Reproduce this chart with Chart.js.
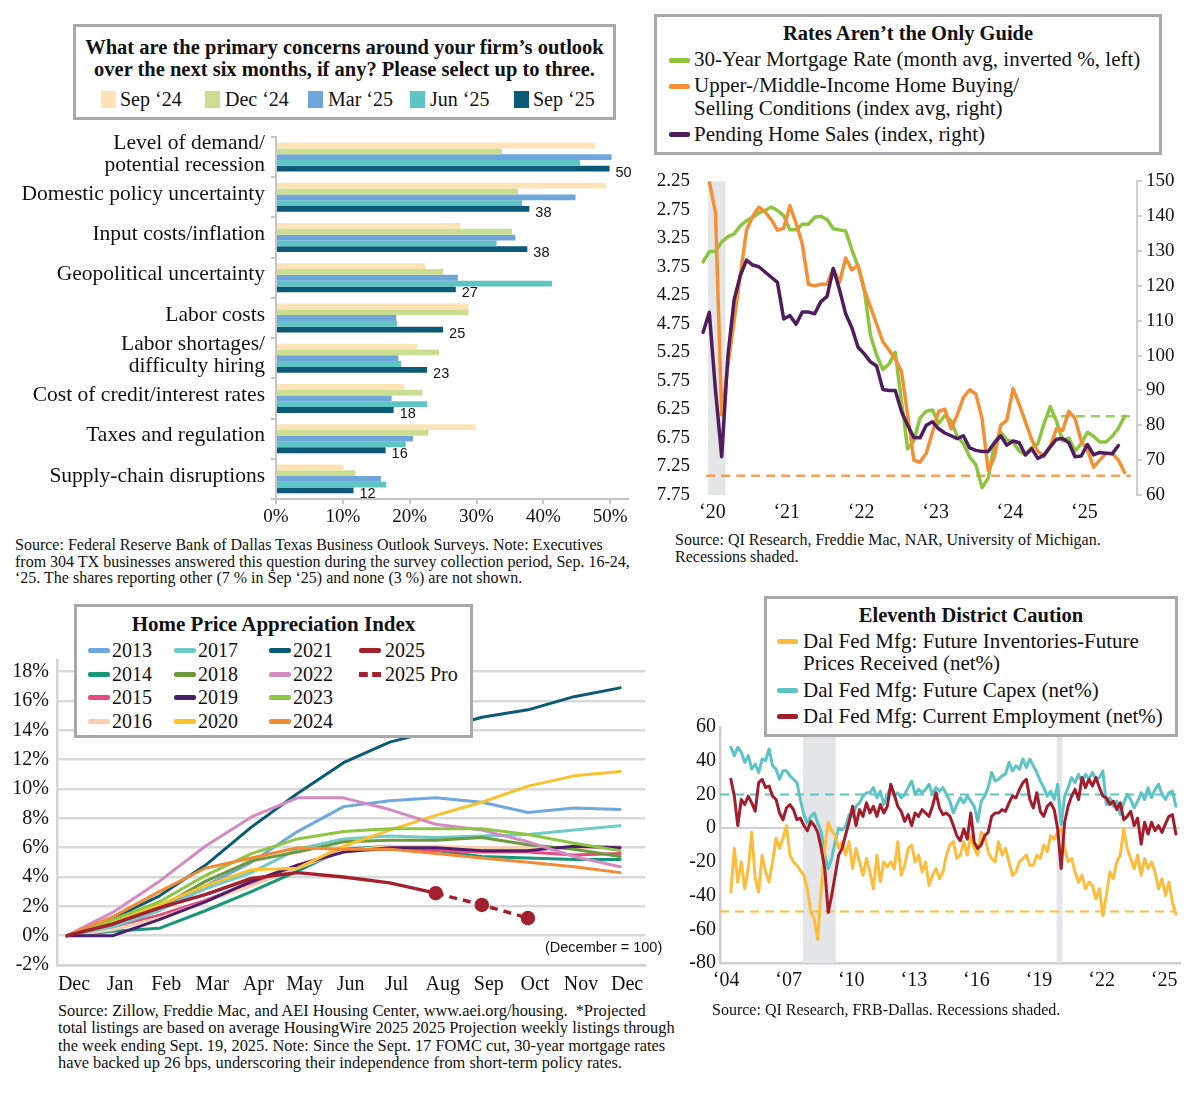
<!DOCTYPE html>
<html lang="en">
<head>
<meta charset="UTF-8" />
<title>Survey concerns, housing and Dallas Fed panels</title>
<style>
  body { margin: 0; background: #fff; font-family: "Liberation Serif", "Times New Roman", serif; color: #111; }
  #page { position: relative; width: 1200px; height: 1100px; overflow: hidden; }
  canvas { position: absolute; }
  .box { position: absolute; background: #fff; border: 3px solid #a8a8a8; box-sizing: border-box; }
  .t { position: absolute; white-space: nowrap; font-size: 20px; line-height: 22px; }
  .b { font-weight: bold; font-size: 20.5px; text-align: center; }
  .sw { position: absolute; width: 15px; height: 17px; }
  .ln { position: absolute; width: 21px; height: 5px; border-radius: 2px; }
  .src { position: absolute; white-space: nowrap; font-size: 16px; line-height: 17px; }
</style>
</head>
<body>
<div id="page">
  <canvas id="concerns" width="640" height="410" style="left:0;top:120px"></canvas>
  <canvas id="rates" width="550" height="370" style="left:650px;top:160px"></canvas>
  <canvas id="hpa" width="690" height="360" style="left:0;top:640px"></canvas>
  <canvas id="caution" width="520" height="300" style="left:680px;top:700px"></canvas>

  <!-- top left legend -->
  <div class="box" style="left:73px;top:24px;width:543px;height:96px"></div>
  <div class="t b" style="left:73px;top:36px;width:543px">What are the primary concerns around your firm’s outlook<br>over the next six months, if any? Please select up to three.</div>
  <div class="sw" style="left:101px;top:91px;background:#fde3b5"></div><div class="t" style="left:120px;top:88px">Sep ‘24</div>
  <div class="sw" style="left:205px;top:91px;background:#c9de90"></div><div class="t" style="left:225px;top:88px">Dec ‘24</div>
  <div class="sw" style="left:308px;top:91px;background:#6ea6dc"></div><div class="t" style="left:328px;top:88px">Mar ‘25</div>
  <div class="sw" style="left:410px;top:91px;background:#5ec4c4"></div><div class="t" style="left:430px;top:88px">Jun ‘25</div>
  <div class="sw" style="left:514px;top:91px;background:#0d5a78"></div><div class="t" style="left:533px;top:88px">Sep ‘25</div>
  <div class="src" style="left:15px;top:537px;line-height:16.5px">Source: Federal Reserve Bank of Dallas Texas Business Outlook Surveys. Note: Executives<br>from 304 TX businesses answered this question during the survey collection period, Sep. 16-24,<br>‘25. The shares reporting other (7 % in Sep ‘25) and none (3 %) are not shown.</div>

  <!-- top right legend -->
  <div class="box" style="left:654px;top:14px;width:508px;height:141px"></div>
  <div class="t b" style="left:654px;top:22px;width:508px">Rates Aren’t the Only Guide</div>
  <div class="ln" style="left:669px;top:58px;background:#8cc63f"></div><div class="t" style="left:694px;top:48px;font-size:21px">30-Year Mortgage Rate (month avg, inverted %, left)</div>
  <div class="ln" style="left:669px;top:84px;background:#f58f35"></div><div class="t" style="left:694px;top:74px;line-height:23px;font-size:21px">Upper-/Middle-Income Home Buying/<br>Selling Conditions (index avg, right)</div>
  <div class="ln" style="left:669px;top:132px;background:#4f1d5e"></div><div class="t" style="left:694px;top:123px;font-size:21px">Pending Home Sales (index, right)</div>
  <div class="src" style="left:675px;top:531px">Source: QI Research, Freddie Mac, NAR, University of Michigan.<br>Recessions shaded.</div>

  <!-- bottom left legend -->
  <div class="box" style="left:74px;top:604px;width:399px;height:134px"></div>
  <div class="t b" style="left:74px;top:613px;width:399px;font-size:21px">Home Price Appreciation Index</div>
  <div class="ln" style="left:88px;top:648px;width:22px;background:#6fa8dc"></div><div class="t" style="left:112px;top:639px">2013</div>
  <div class="ln" style="left:88px;top:672px;width:22px;background:#17977a"></div><div class="t" style="left:112px;top:663px">2014</div>
  <div class="ln" style="left:88px;top:695px;width:22px;background:#e8497e"></div><div class="t" style="left:112px;top:686px">2015</div>
  <div class="ln" style="left:88px;top:719px;width:22px;background:#f9cfb0"></div><div class="t" style="left:112px;top:710px">2016</div>
  <div class="ln" style="left:174px;top:648px;width:22px;background:#6ecbc8"></div><div class="t" style="left:198px;top:639px">2017</div>
  <div class="ln" style="left:174px;top:672px;width:22px;background:#6b9a3c"></div><div class="t" style="left:198px;top:663px">2018</div>
  <div class="ln" style="left:174px;top:695px;width:22px;background:#4b1d6b"></div><div class="t" style="left:198px;top:686px">2019</div>
  <div class="ln" style="left:174px;top:719px;width:22px;background:#fbc02d"></div><div class="t" style="left:198px;top:710px">2020</div>
  <div class="ln" style="left:269px;top:648px;width:22px;background:#0b5a73"></div><div class="t" style="left:293px;top:639px">2021</div>
  <div class="ln" style="left:269px;top:672px;width:22px;background:#d38bc2"></div><div class="t" style="left:293px;top:663px">2022</div>
  <div class="ln" style="left:269px;top:695px;width:22px;background:#8dc63f"></div><div class="t" style="left:293px;top:686px">2023</div>
  <div class="ln" style="left:269px;top:719px;width:22px;background:#f38b36"></div><div class="t" style="left:293px;top:710px">2024</div>
  <div class="ln" style="left:359px;top:648px;width:22px;background:#a3212f"></div><div class="t" style="left:385px;top:639px">2025</div>
  <div class="ln" style="left:359px;top:672px;width:22px;height:0;border-radius:0;border-top:5px dashed #a3212f"></div><div class="t" style="left:385px;top:663px">2025 Pro</div>
  <div class="t" style="left:545px;top:936px;font-family:'Liberation Sans',Arial,sans-serif;font-size:14.5px">(December = 100)</div>
  <div class="src" style="left:58px;top:1002px;line-height:17.4px;font-size:16.4px">Source: Zillow, Freddie Mac, and AEI Housing Center, www.aei.org/housing.&nbsp; *Projected<br>total listings are based on average HousingWire 2025 2025 Projection weekly listings through<br>the week ending Sept. 19, 2025. Note: Since the Sept. 17 FOMC cut, 30-year mortgage rates<br>have backed up 26 bps, underscoring their independence from short-term policy rates.</div>

  <!-- bottom right legend -->
  <div class="box" style="left:764px;top:596px;width:414px;height:141px"></div>
  <div class="t b" style="left:764px;top:604px;width:414px">Eleventh District Caution</div>
  <div class="ln" style="left:777px;top:639px;background:#fbbd3b"></div><div class="t" style="left:803px;top:630px;font-size:21px">Dal Fed Mfg: Future Inventories-Future<br>Prices Received (net%)</div>
  <div class="ln" style="left:777px;top:688px;background:#5cc4c4"></div><div class="t" style="left:803px;top:679px;font-size:21px">Dal Fed Mfg: Future Capex (net%)</div>
  <div class="ln" style="left:777px;top:714px;background:#a31c2c"></div><div class="t" style="left:803px;top:705px;font-size:21px">Dal Fed Mfg: Current Employment (net%)</div>
  <div class="src" style="left:712px;top:1001px">Source: QI Research, FRB-Dallas. Recessions shaded.</div>
</div>

<script src="https://cdn.jsdelivr.net/npm/chart.js@4.4.1/dist/chart.umd.min.js"></script>
<script>
  // ---- top left: survey concerns (% of respondents) ----
  const concernLabels = [
    ['Level of demand/', 'potential recession'],
    'Domestic policy uncertainty',
    'Input costs/inflation',
    'Geopolitical uncertainty',
    'Labor costs',
    ['Labor shortages/', 'difficulty hiring'],
    'Cost of credit/interest rates',
    'Taxes and regulation',
    'Supply-chain disruptions'
  ];
  const surveyNames = ['Sep ‘24', 'Dec ‘24', 'Mar ‘25', 'Jun ‘25', 'Sep ‘25'];
  const sep24 = [47.8, 49.4, 27.6, 22.4, 28.8, 21.1, 19.2, 29.9, 10.1];
  const dec24 = [33.8, 36.2, 35.3, 25.0, 28.8, 24.4, 21.9, 22.8, 11.9];
  const mar25 = [50.2, 44.8, 35.8, 27.2, 18.0, 18.3, 17.3, 20.5, 15.7];
  const jun25 = [45.5, 36.8, 33.0, 41.3, 18.1, 18.7, 22.6, 19.4, 16.5];
  const sep25 = [49.9, 37.9, 37.6, 26.9, 25.0, 22.6, 17.6, 16.4, 11.6];
  const concernTicks = [0, 10, 20, 30, 40, 50];

  // ---- top right: rates vs housing, monthly from Jan 2020 ----
  const mortgageRate = [
    3.66, 3.48, 3.48, 3.31, 3.22, 3.17, 3.03, 2.94, 2.88, 2.80, 2.76, 2.70,
    2.76, 2.85, 3.10, 3.10, 3.00, 3.00, 2.88, 2.86, 2.92, 3.08, 3.10, 3.12,
    3.45, 3.74, 4.15, 4.95, 5.30, 5.55, 5.45, 5.25, 6.10, 6.94, 6.80, 6.40,
    6.28, 6.26, 6.50, 6.35, 6.45, 6.72, 6.85, 7.08, 7.22, 7.62, 7.45, 6.85,
    6.65, 6.78, 6.82, 6.98, 7.05, 6.92, 6.85, 6.50, 6.20, 6.45, 6.80, 6.75,
    6.98, 6.85, 6.65, 6.72, 6.82, 6.82, 6.72, 6.58, 6.37
  ];
  const buyingStart = 1; // series begins Feb 2020
  const buyingConditions = [
    150, 141, 83, 97, 110, 123, 136, 140, 142.6, 141.3, 139,
    136, 136.5, 143, 138, 132, 120.5, 120, 120.5, 120.5, 125, 121, 128,
    124.6, 126, 119, 114, 109, 104, 101.6, 99, 95.5, 83, 70, 69.4,
    72, 78, 84, 84.6, 79, 83, 88, 90.2, 89, 82, 67, 71,
    80, 81.5, 90.5, 86, 81, 76, 72.5, 71, 74, 79, 78.5, 84,
    82, 75.5, 73, 68, 70, 72, 72, 70, 66.5
  ];
  const pendingSales = [
    106.7, 112.4, 90, 71, 100, 116, 123, 127.4, 126, 125.5, 124, 122.5,
    121, 110.5, 111.5, 109, 112.5, 112.5, 112, 115.5, 117, 125, 119, 112,
    108, 102.4, 100.5, 98.2, 97, 90.3, 90, 90, 84, 80, 76.5, 76.4,
    80, 81, 79, 77.8, 77, 76.2, 77, 73.5, 72.8, 72.5, 72.5, 75,
    77, 74.3, 75.5, 75, 71.5, 73.3, 70.5, 71.5, 73.8, 76, 76.2, 75,
    71, 71.2, 74.5, 71.5, 72.2, 72, 71.8, 74.2
  ];
  const mortgageRef = 6.37;      // latest rate, dashed
  const mortgageRefFrom = 55.3;
  const buyingRef = 65.5;        // latest conditions level, dashed
  const ratesRecession = [[0.8, 3.6]];
  const rateTicks = [2.25, 2.75, 3.25, 3.75, 4.25, 4.75, 5.25, 5.75, 6.25, 6.75, 7.25, 7.75];
  const indexTicks = [60, 70, 80, 90, 100, 110, 120, 130, 140, 150];
  const rateYearPos = [1.5, 13.5, 25.5, 37.5, 49.5, 61.5];
  const rateYearLabels = ['‘20', '‘21', '‘22', '‘23', '‘24', '‘25'];

  // ---- bottom left: home price appreciation, Dec = 0 ----
  const hpaMonths = ['Dec', 'Jan', 'Feb', 'Mar', 'Apr', 'May', 'Jun', 'Jul', 'Aug', 'Sep', 'Oct', 'Nov', 'Dec'];
  const hpa2013 = [0, 0.7, 1.9, 3.4, 5.0, 7.1, 8.8, 9.2, 9.4, 9.1, 8.4, 8.7, 8.6];
  const hpa2014 = [0, 0.3, 0.5, 1.7, 3.0, 4.4, 5.9, 6.1, 5.8, 5.4, 5.3, 5.2, 5.2];
  const hpa2015 = [0, 0.6, 1.4, 2.4, 3.6, 4.8, 5.8, 5.9, 5.8, 5.7, 5.7, 5.5, 5.6];
  const hpa2016 = [0, 0.4, 1.2, 2.3, 3.4, 4.6, 5.8, 6.1, 6.1, 6.0, 6.0, 6.0, 6.1];
  const hpa2017 = [0, 0.6, 1.7, 3.2, 4.3, 5.9, 6.6, 6.8, 6.7, 6.8, 6.9, 7.2, 7.5];
  const hpa2018 = [0, 0.8, 1.9, 3.7, 5.1, 5.7, 6.4, 6.5, 6.5, 6.7, 6.2, 5.9, 5.4];
  const hpa2019 = [0, 0.0, 1.1, 2.3, 3.7, 4.8, 5.7, 6.0, 6.0, 5.8, 5.8, 6.1, 6.0];
  const hpa2020 = [0, 0.9, 2.1, 3.4, 4.5, 4.6, 6.1, 7.2, 8.2, 9.1, 10.2, 10.9, 11.2];
  const hpa2021 = [0, 1.2, 2.7, 4.8, 7.4, 9.7, 11.8, 13.2, 14.0, 14.9, 15.4, 16.3, 16.9];
  const hpa2022 = [0, 1.6, 3.7, 6.1, 8.1, 9.4, 9.4, 8.6, 7.6, 7.2, 6.4, 5.4, 4.7];
  const hpa2023 = [0, 1.1, 2.3, 4.1, 5.6, 6.6, 7.1, 7.3, 7.3, 7.3, 6.9, 6.3, 5.8];
  const hpa2024 = [0, 1.3, 3.0, 4.6, 5.3, 6.0, 5.9, 5.9, 5.6, 5.3, 5.0, 4.7, 4.3];
  const hpa2025 = [0, 0.8, 1.9, 2.8, 3.9, 4.3, 4.0, 3.6, 2.9];
  const hpa2025Pro = [null, null, null, null, null, null, null, null, 2.9, 2.1, 1.2];
  const hpaTicks = [-2, 0, 2, 4, 6, 8, 10, 12, 14, 16, 18];

  // ---- bottom right: Dallas Fed TMOS, every two months from mid-2004 ----
  const tmosStart = 2004.42;
  const tmosStep = 1 / 6;
  const futureInvPrices = [
    -38, -12, -32, -20, -36, -24, -2.5, -30, -38, -16, -26, -32, -20, -6, -12, -6, 1.5, -16, -20, -22,
    -25, -28, -36, -50, -54, -66, -36, -12, 3.5, -1.5, -4.5, -12, -8, -16, -8, -24, -12, -20, -28, -18,
    -26, -36, -16, -32, -20, -23, -20, -24, -8, -28, -22, -12, -10, -20, -16, -26, -20, -34, -28, -24,
    -30, -26, -16, -10, -8, -18, -16, -8, -16, -4.5, -12, -16, -2.5, -4.5, -14, -18, -20, -8, -16, -12,
    -20, -28, -26, -20, -18, -16, -22,
    -22, -16, -18, -10, -14, -4.5, -6.5, -2.5, 0, -12, -20, -18, -26, -32, -28, -36, -32, -34, -42, -36,
    -52, -40, -26, -30, -20, -16, -0.5, -12, -18, -24, -16, -28, -18, -24, -20, -26, -36, -30, -40, -32,
    -44, -51
  ];
  const futureCapex = [
    48, 43, 48, 45, 39, 43, 35, 38, 33, 41, 40, 47, 37, 35, 29, 34, 34, 31, 29, 27,
    17, 8, 3, 7, 9, 3, -2, -16, -24, -18, -8, 0, -1, 1, 8, 7, 13, 15, 19, 21,
    21, 24, 18, 22, 14, 20, 24, 19, 21, 18, 20, 24, 28, 20, 23, 21, 23, 26, 20, 24,
    22, 24, 20, 16, 9, 14, 18, 15, 19, 16, 13, 4, 16, 19, 24, 33, 28, 29, 31, 32,
    39, 34, 37, 35, 41, 36, 41,
    37, 33, 28, 24, 19, 22, 17, 26, 2, 19, 24, 30, 27, 32, 27, 32, 29, 33, 29, 30,
    34, 14, 18, 13, 16, 8, 15, 20, 17, 12, 16, 21, 17, 24, 18, 23, 26, 20, 17, 21,
    22, 13
  ];
  const currentEmployment = [
    29, 19, 1.5, 17, 14, 19, 15, 10, 27, 29, 24, 25, 19, 17, 9, 5, 12, 14, 11, 5,
    6, 1.5, -1.5, 4, 1.5, -2.5, -12, -24, -50, -40, -28, -16, -12, -4, 3.5, 13, 1.5, 11, 7, 15,
    9, 13, 7, 14, 9, 13, 26, 20, 13, 10, 4, 8, 1.5, 9, 7, 11, 9, 7, 13, 21,
    12, 8, 9, 7, 1.5, -4.5, -7.5, -0.5, -6.5, 9, -8.5, -12, -10, -4.5, -2.5, 7, 9, 9, 11, 10,
    15, 19, 18, 23, 27, 29, 17,
    12, 21, 10, 7, 13, 15, 11, -0.5, -24, 3.5, 13, 19, 23, 17, 30, 24, 29, 25, 30, 24,
    19, 18, 14, 16, 11, 15, 5, 7, 10, 1.5, 6, -9.5, 3.5, -3.5, 3.5, -1.5, 1.5, -2.5, 2.5, 7,
    8, -3.5
  ];
  const capexRef = 20;
  const invPricesRef = -49.5;
  const tmosRecessions = [[2007.87, 2009.45], [2020.04, 2020.31]];
  const tmosTicks = [-80, -60, -40, -20, 0, 20, 40, 60];
  const tmosYears = [2004, 2007, 2010, 2013, 2016, 2019, 2022, 2025];

  // ---- helpers ----
  Chart.defaults.font.family = "'Liberation Serif', 'Times New Roman', serif";
  Chart.defaults.color = '#111';
  const quiet = { legend: { display: false }, tooltip: { enabled: false } };
  const ticksAt = vals => s => { s.ticks = vals.map(v => ({ value: v })); };
  const fixW = w => s => { s.width = w; };
  const fixH = h => s => { s.height = h; };
  const series = (arr, start, step) => arr.map((v, i) => ({ x: start + i * step, y: v }));
  const line = (label, data, color, order, extra) => Object.assign({
    label, data, borderColor: color, backgroundColor: color, borderWidth: 3,
    pointRadius: 0, tension: 0, order, borderJoinStyle: 'round', borderCapStyle: 'round'
  }, extra || {});

  const shadePlugin = {
    id: 'shade',
    beforeDatasetsDraw(chart, args, opts) {
      if (!opts.bands) return;
      const { ctx, chartArea, scales } = chart;
      ctx.save();
      ctx.fillStyle = opts.color;
      opts.bands.forEach(([a, b]) => {
        const x1 = scales.x.getPixelForValue(a);
        const x2 = scales.x.getPixelForValue(b);
        ctx.fillRect(x1, chartArea.top, x2 - x1, chartArea.bottom - chartArea.top);
      });
      ctx.restore();
    }
  };

  const sepLabelPlugin = {
    id: 'sepLabels',
    afterDatasetsDraw(chart) {
      const meta = chart.getDatasetMeta(4);
      const c = chart.ctx;
      c.save();
      c.font = "14.5px 'Liberation Sans', Arial, sans-serif";
      c.fillStyle = '#111';
      c.textBaseline = 'middle';
      meta.data.forEach((bar, i) => {
        c.fillText(Math.round(sep25[i]), bar.x + 6, bar.y + 4);
      });
      c.restore();
    }
  };

  // Concerns bar chart
  const surveyValues = [sep24, dec24, mar25, jun25, sep25];
  const surveyColors = ['#fde3b5', '#c9de90', '#6ea6dc', '#5ec4c4', '#0d5a78'];
  new Chart(document.getElementById('concerns'), {
    type: 'bar',
    data: {
      labels: concernLabels,
      datasets: surveyNames.map((n, i) => ({
        label: n, data: surveyValues[i], backgroundColor: surveyColors[i],
        barPercentage: 1, categoryPercentage: 0.72
      }))
    },
    options: {
      indexAxis: 'y', responsive: false, animation: false, devicePixelRatio: 1, events: [],
      layout: { padding: { top: 12.6, right: 12.4, left: 0, bottom: 0 } },
      plugins: quiet,
      scales: {
        x: {
          min: 0, max: 52.6, afterBuildTicks: ticksAt(concernTicks), afterFit: fixH(31),
          ticks: { callback: v => v + '%', font: { size: 19 }, padding: 2 },
          grid: { drawOnChartArea: false, tickLength: 5, color: '#c4c4c4', lineWidth: 2 },
          border: { color: '#c4c4c4', width: 2 }
        },
        y: {
          afterFit: fixW(276),
          ticks: { autoSkip: false, font: { size: 21.5, lineHeight: 1.02 }, padding: 6, labelOffset: -3 },
          grid: { drawOnChartArea: false, tickLength: 5, color: '#c4c4c4', lineWidth: 2 },
          border: { color: '#c4c4c4', width: 2 }
        }
      }
    },
    plugins: [sepLabelPlugin]
  });

  // Rates chart
  const rateEnd = mortgageRate.length;
  new Chart(document.getElementById('rates'), {
    type: 'line',
    data: {
      datasets: [
        line('Pending Home Sales', series(pendingSales, 0, 1), '#4f1d5e', 0, { yAxisID: 'yR', borderWidth: 3.5 }),
        line('Buying/Selling Conditions', series(buyingConditions, buyingStart, 1), '#f58f35', 1, { yAxisID: 'yR', borderWidth: 3.5 }),
        line('30-Year Mortgage Rate', series(mortgageRate, 0, 1), '#8cc63f', 2, { yAxisID: 'yL', borderWidth: 3.5 }),
        line('rate ref', [{ x: mortgageRefFrom, y: mortgageRef }, { x: rateEnd, y: mortgageRef }], '#9ccf5a', 3,
          { yAxisID: 'yL', borderWidth: 2.5, borderDash: [9, 6], borderCapStyle: 'butt' }),
        line('conditions ref', [{ x: 0.5, y: buyingRef }, { x: rateEnd, y: buyingRef }], '#f2a05a', 3,
          { yAxisID: 'yR', borderWidth: 2.5, borderDash: [9, 6], borderCapStyle: 'butt' })
      ]
    },
    options: {
      responsive: false, animation: false, devicePixelRatio: 1, events: [],
      layout: { padding: { top: 17, right: 0, left: 0, bottom: 0 } },
      plugins: Object.assign({ shade: { bands: ratesRecession, color: '#e4e5e7' } }, quiet),
      scales: {
        x: {
          type: 'linear', min: -0.5, max: 70, afterBuildTicks: ticksAt(rateYearPos), afterFit: fixH(35),
          ticks: { callback: (v, i) => rateYearLabels[i], font: { size: 20 }, padding: 6 },
          grid: { display: false, drawTicks: false }, border: { display: false }
        },
        yL: {
          position: 'left', reverse: true, min: 2.25, max: 7.75, afterBuildTicks: ticksAt(rateTicks), afterFit: fixW(50),
          ticks: { callback: v => v.toFixed(2), font: { size: 19 }, padding: 10 },
          grid: { display: false, drawTicks: false }, border: { display: false }
        },
        yR: {
          position: 'right', min: 60, max: 150, afterBuildTicks: ticksAt(indexTicks), afterFit: fixW(63),
          ticks: { font: { size: 19 }, padding: 4 },
          grid: { drawOnChartArea: false, tickLength: 5, color: '#cfcfcf', lineWidth: 2 },
          border: { color: '#cfcfcf', width: 2 }
        }
      }
    },
    plugins: [shadePlugin]
  });

  // Home price appreciation chart
  const hpaYears = [2013, 2014, 2015, 2016, 2017, 2018, 2019, 2020, 2021, 2022, 2023, 2024];
  const hpaSeries = [hpa2013, hpa2014, hpa2015, hpa2016, hpa2017, hpa2018, hpa2019, hpa2020, hpa2021, hpa2022, hpa2023, hpa2024];
  const hpaColors = ['#6fa8dc', '#17977a', '#e8497e', '#f9cfb0', '#6ecbc8', '#6b9a3c', '#4b1d6b', '#fbc02d', '#0b5a73', '#d38bc2', '#8dc63f', '#f38b36'];
  const hpaSets = hpaYears.map((yr, i) => line(String(yr), series(hpaSeries[i], 0, 1), hpaColors[i], 2025 - yr + 1));
  hpaSets.push(line('2025', series(hpa2025, 0, 1), '#a3212f', 0, { borderWidth: 3.5 }));
  hpaSets.push(line('2025 Pro', series(hpa2025Pro, 0, 1), '#a3212f', 0,
    { borderWidth: 3.5, borderDash: [8, 6], borderCapStyle: 'butt', pointRadius: 5.5, pointBackgroundColor: '#a3212f' }));
  new Chart(document.getElementById('hpa'), {
    type: 'line',
    data: { datasets: hpaSets },
    options: {
      responsive: false, animation: false, devicePixelRatio: 1, events: [],
      layout: { padding: { top: 13, right: 45, left: 0, bottom: 0 } },
      plugins: quiet,
      scales: {
        x: {
          type: 'linear', min: -0.217, max: 12.54, afterBuildTicks: ticksAt(hpaMonths.map((m, i) => i)), afterFit: fixH(35),
          ticks: { callback: (v, i) => hpaMonths[i], font: { size: 20 }, padding: 8, labelOffset: 7 },
          grid: { display: false, drawTicks: false }, border: { color: '#d4d4d4', width: 2.5 }
        },
        y: {
          min: -2, max: 18.8, afterBuildTicks: ticksAt(hpaTicks), afterFit: fixW(57),
          ticks: { callback: v => v + '%', font: { size: 20 }, padding: 8 },
          grid: { color: '#d9d9d9', lineWidth: 2.5, drawTicks: false },
          border: { color: '#d4d4d4', width: 2.5 }
        }
      }
    }
  });

  // Eleventh District caution chart
  const tmosEnd = tmosStart + (futureCapex.length - 1) * tmosStep;
  new Chart(document.getElementById('caution'), {
    type: 'line',
    data: {
      datasets: [
        line('Current Employment', series(currentEmployment, tmosStart, tmosStep), '#a31c2c', 0),
        line('Future Inventories-Future Prices', series(futureInvPrices, tmosStart, tmosStep), '#fbbd3b', 1),
        line('Future Capex', series(futureCapex, tmosStart, tmosStep), '#5cc4c4', 2),
        line('capex ref', [{ x: 2003.9, y: capexRef }, { x: tmosEnd, y: capexRef }], '#5cc4c4', 3,
          { borderWidth: 2, borderDash: [9, 6], borderCapStyle: 'butt' }),
        line('inv ref', [{ x: 2003.9, y: invPricesRef }, { x: tmosEnd, y: invPricesRef }], '#fbbd3b', 3,
          { borderWidth: 2, borderDash: [9, 6], borderCapStyle: 'butt' })
      ]
    },
    options: {
      responsive: false, animation: false, devicePixelRatio: 1, events: [],
      layout: { padding: { top: 27, right: 20, left: 0, bottom: 0 } },
      plugins: Object.assign({ shade: { bands: tmosRecessions, color: '#e4e5e7' } }, quiet),
      scales: {
        x: {
          type: 'linear', min: 2003.9, max: 2025.95, afterBuildTicks: ticksAt(tmosYears), afterFit: fixH(37),
          ticks: { callback: v => '‘' + String(v).slice(2), font: { size: 20 }, padding: 6, labelOffset: 4 },
          grid: { display: false, drawTicks: false }, border: { color: '#cfcfcf', width: 2.5 }
        },
        y: {
          min: -80, max: 60, afterBuildTicks: ticksAt(tmosTicks), afterFit: fixW(40),
          ticks: { font: { size: 20 }, padding: 4 },
          grid: { drawTicks: false, lineWidth: 2, color: c => (c.tick && c.tick.value === 0 ? '#cfcfcf' : 'rgba(0,0,0,0)') },
          border: { color: '#cfcfcf', width: 2.5 }
        }
      }
    },
    plugins: [shadePlugin]
  });
</script>
</body>
</html>
